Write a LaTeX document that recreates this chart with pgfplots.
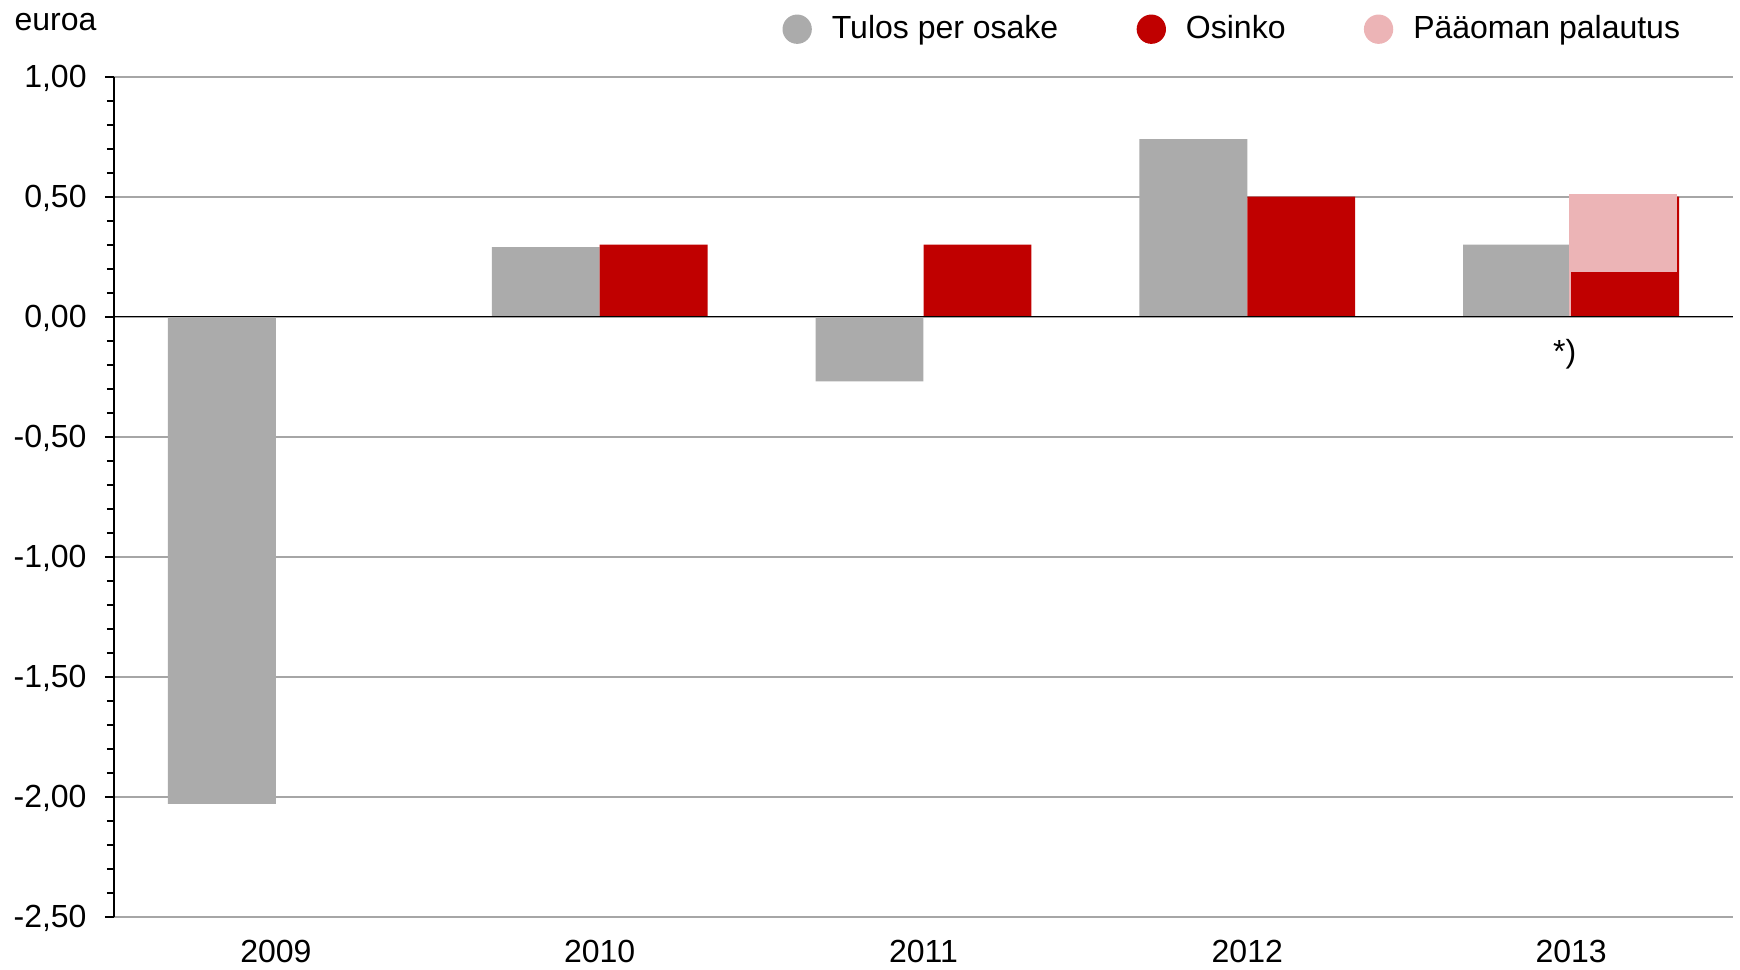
\documentclass[border=0pt]{standalone}
\usepackage{fontspec}
\setmainfont{Liberation Sans}
\usepackage{pgfplots}
\pgfplotsset{compat=1.18}
\definecolor{epsgray}{HTML}{ABABAB}
\definecolor{divred}{HTML}{C00000}
\definecolor{retpink}{HTML}{ECB4B6}
\definecolor{gridgray}{HTML}{A6A6A6}
\newcommand\cf{\fontsize{9.6}{11.5}\selectfont}

\begin{document}
\begin{tikzpicture}
\begin{axis}[
    at={(0,0)}, anchor=south west,
    scale only axis,
    width=485.7pt, height=252pt,
    xmin=-0.5, xmax=4.5,
    ymin=-2.5, ymax=1,
    axis y line*=left,
    axis x line*=bottom,
    x axis line style={draw=none},
    y axis line style={black, line width=0.6pt},
    xtick={0,1,2,3,4},
    xticklabels={2009,2010,2011,2012,2013},
    xtick style={draw=none},
    xticklabel style={font=\cf, yshift=-3pt, inner sep=1pt},
    ytick={-2.5,-2,-1.5,-1,-0.5,0,0.5,1},
    minor y tick num=4,
    tick align=outside,
    major tick length=2.7pt,
    minor tick length=2.1pt,
    ytick style={black, line width=0.6pt},
    yticklabel style={font=\cf, xshift=-2pt, yshift=-0.5pt},
    ymajorgrids,
    grid style={gridgray, line width=0.6pt},
    /pgf/number format/.cd, fixed, fixed zerofill, precision=2, use comma, assume math mode=true,
    /pgfplots/.cd,
    bar width=0.3333,
    legend columns=3,
    legend image code/.code={\fill[#1] (4.4pt,0pt) circle (4.4pt);},
    legend style={draw=none, fill=none, inner sep=0pt, font=\cf,
        at={(axis description cs:0.4125,1.0565)}, anchor=west,
        /tikz/every odd column/.append style={column sep=4pt},
        /tikz/every even column/.append style={column sep=21.5pt}},
]
\addplot[ybar, fill=epsgray, draw=none, bar shift=-0.16667]
    coordinates {(0,-2.03) (1,0.29) (2,-0.27) (3,0.74) (4,0.30)};
\addlegendentry{Tulos per osake}
\addplot[ybar, fill=divred, draw=none, bar shift=0.16667]
    coordinates {(1,0.30) (2,0.30) (3,0.50) (4,0.50)};
\addlegendentry{Osinko}
\addplot[ybar, fill=retpink, draw=none, bar shift=0.1617]
    coordinates {(4,0.51)};
\addlegendentry{Pääoman palautus}
\addplot[ybar, fill=divred, draw=none, bar shift=0.16667, forget plot]
    coordinates {(4,0.185)};
\draw[black, line width=0.45pt] (axis cs:-0.5,0) -- (axis cs:4.5,0);
\node[font=\cf] at (axis cs:3.98,-0.155) {*)};
\end{axis}
\node[anchor=west, font=\cf, inner sep=0pt] at (-30pt,268.5pt) {euroa};
\pgfresetboundingbox
\useasboundingbox (-34.2pt,-15.72pt) rectangle (487.8pt,275pt);
\end{tikzpicture}
\end{document}
